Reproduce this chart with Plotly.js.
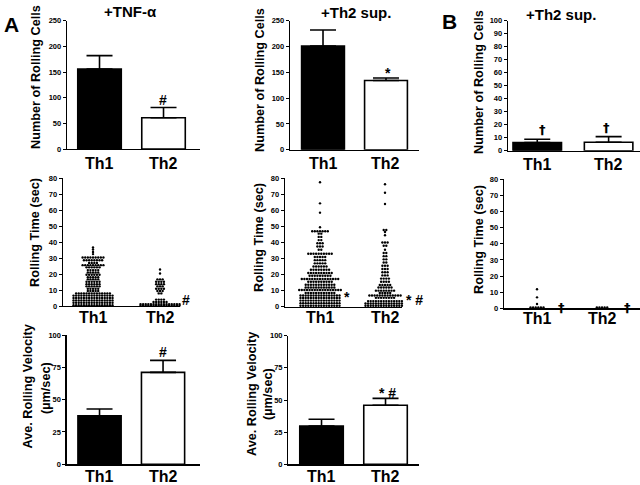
<!DOCTYPE html>
<html><head><meta charset="utf-8">
<script src="https://cdn.plot.ly/plotly-3.0.1.min.js"></script>
<style>html,body{margin:0;padding:0;background:#fff}#chart{width:640px;height:485px}</style>
</head><body><div id="chart"></div>
<script>
// ---------------- DATA ----------------
const groups = ['Th1', 'Th2'];

// Number of rolling cells (mean, SEM)
const cellsTnfMean = [156, 61];
const cellsTnfErr = [26, 20];
const cellsTh2supMean = [201, 134];
const cellsTh2supErr = [31, 5];
const cellsBMean = [6.2, 6.5];
const cellsBErr = [2.6, 4.3];

// Average rolling velocity (mean, SEM)
const velTnfMean = [37.6, 71.1];
const velTnfErr = [5.2, 9.3];
const velTh2supMean = [29.8, 45.9];
const velTh2supErr = [5.2, 5.4];

// Rolling time (sec): values and how many cells share each value
const timeTnfTh1Vals = [36.7, 35.4, 33.9, 32.5, 30.4, 28.7, 27, 25.6, 24.2, 22.5, 21, 19.6, 18, 16.7, 15.2, 13.7, 12.3, 10.8, 9.4, 7.9, 6.5, 5, 3.5, 2, 0.5];
const timeTnfTh1Counts = [1, 1, 1, 1, 9, 8, 4, 9, 6, 5, 5, 6, 5, 5, 6, 6, 6, 5, 5, 14, 16, 16, 16, 16, 16];
const timeTnfTh2Vals = [22.9, 20.4, 16.7, 15.2, 13.7, 12.3, 10.8, 9.4, 7.9, 4, 2.5, 1.2, 0.3];
const timeTnfTh2Counts = [1, 1, 3, 4, 4, 3, 4, 3, 2, 4, 6, 16, 16];

const timeSupTh1Vals = [77.5, 64.4, 58.6, 49.5, 47, 45.5, 43.5, 41.5, 39.5, 37.5, 35.5, 33, 31, 29, 27, 25, 23, 21, 19.3, 17.3, 15.5, 13.7, 12, 10.4, 8.6, 7, 5.4, 3.8, 2.2, 0.6];
const timeSupTh1Counts = [1, 1, 1, 1, 7, 2, 2, 2, 3, 3, 2, 10, 5, 5, 5, 6, 8, 10, 9, 15, 10, 12, 12, 17, 12, 16, 16, 16, 16, 16];
const timeSupTh2Vals = [76.3, 71, 64, 47.8, 46.5, 44.5, 40, 38, 35.5, 33.5, 31.5, 29.5, 27.5, 25.5, 23.5, 21.5, 19.5, 17.5, 15.5, 13.5, 12, 10, 8.5, 7, 5.5, 3.5, 2, 0.6];
const timeSupTh2Counts = [1, 1, 1, 2, 1, 1, 3, 2, 1, 2, 2, 2, 2, 3, 3, 3, 3, 4, 4, 5, 6, 8, 5, 13, 8, 14, 16, 16];

const timeBTh1Vals = [11.8, 6.8, 2.7, 0.5];
const timeBTh1Counts = [1, 1, 1, 6];
const timeBTh2Vals = [0.5];
const timeBTh2Counts = [5];

// ---------------- LAYOUT HELPERS ----------------
const W = 640, H = 485;
const FONT = 'Liberation Sans, Arial, sans-serif';
const dx = (l, r) => [l / W, r / W];
const dy = (t, b) => [1 - b / H, 1 - t / H];
const px = x => x / W;
const py = y => 1 - y / H;

const layout = {
  width: W, height: H, margin: {l: 0, r: 0, t: 0, b: 0},
  paper_bgcolor: '#fff', plot_bgcolor: 'rgba(0,0,0,0)',
  showlegend: false, font: {family: FONT, color: '#000'},
  annotations: []
};
const data = [];

function yAx(dom, range, dtick, anchor) {
  return {domain: dom, range: range, dtick: dtick, tick0: 0, anchor: anchor,
    showline: true, linecolor: '#000', linewidth: 1.3, ticks: 'outside', ticklen: 3, tickwidth: 1,
    tickcolor: '#000', showgrid: false, zeroline: false, fixedrange: true,
    tickfont: {family: FONT, size: 7.5, weight: 'bold', color: '#000'}};
}
function xAx(dom, range, anchor) {
  return {domain: dom, range: range, anchor: anchor, showticklabels: false,
    showline: true, linecolor: '#000', linewidth: 1.3, ticks: '', showgrid: false, zeroline: false,
    fixedrange: true};
}
function note(text, x, y, size, angle, fam) {
  layout.annotations.push({text: text, x: px(x), y: py(y), xref: 'paper', yref: 'paper',
    showarrow: false, xanchor: 'center', yanchor: 'middle', textangle: angle || 0,
    font: {family: fam || FONT, size: size, weight: 'bold', color: '#000'}});
}
function catLabels(xr, xvals, ycenter) {
  xvals.forEach((xv, i) => layout.annotations.push({text: groups[i], x: xv, y: py(ycenter),
    xref: xr, yref: 'paper', showarrow: false, xanchor: 'center', yanchor: 'middle',
    font: {family: FONT, size: 16, weight: 'bold', color: '#000'}}));
}

let n = 0;
function barPanel(xpx, ypx, xrange, yrange, dtick, means, errs, labelY) {
  n++;
  const xa = 'xaxis' + (n === 1 ? '' : n), ya = 'yaxis' + (n === 1 ? '' : n);
  const xr = 'x' + (n === 1 ? '' : n), yr = 'y' + (n === 1 ? '' : n);
  layout[xa] = xAx(dx(xpx[0], xpx[1]), xrange, yr);
  layout[ya] = yAx(dy(ypx[0], ypx[1]), yrange, dtick, xr);
  data.push({type: 'bar', x: [0, 1], y: means, xaxis: xr, yaxis: yr, width: [0.68, 0.68],
    marker: {color: ['#000', '#fff'], line: {color: '#000', width: 1.6}},
    error_y: {type: 'data', symmetric: false, array: errs, arrayminus: [0, 0],
      color: '#000', thickness: 1.6, width: 13}, cliponaxis: false});
  catLabels(xr, [0, 1], labelY);
}
function dotPanel(xpx, ypx, xrange, sets, labelY) {
  n++;
  const xa = 'xaxis' + n, ya = 'yaxis' + n, xr = 'x' + n, yr = 'y' + n;
  layout[xa] = xAx(dx(xpx[0], xpx[1]), xrange, yr);
  layout[ya] = yAx(dy(ypx[0], ypx[1]), [0, 80], 10, xr);
  const pxPerUnit = (xpx[1] - xpx[0]) / (xrange[1] - xrange[0]);
  const sp = 2.6 / pxPerUnit;
  sets.forEach((s, gi) => {
    const xs = [], ys = [];
    s[0].forEach((v, i) => {
      const c = s[1][i];
      for (let k = 0; k < c; k++) { xs.push(gi + 1 + (k - (c - 1) / 2) * sp); ys.push(v); }
    });
    data.push({type: 'scatter', mode: 'markers', x: xs, y: ys, xaxis: xr, yaxis: yr,
      marker: {color: '#000', size: 2.4, line: {width: 0}}, cliponaxis: false, hoverinfo: 'skip'});
  });
  catLabels(xr, [1, 2], labelY);
}

// ---------------- PANELS ----------------
// Row 1: number of rolling cells
barPanel([67, 200], [20.7, 149], [-0.508, 1.57], [0, 250], 50, cellsTnfMean, cellsTnfErr, 163);
barPanel([290, 419], [20.7, 149.7], [-0.524, 1.524], [0, 250], 50, cellsTh2supMean, cellsTh2supErr, 163);
barPanel([508, 640], [20.7, 150.7], [-0.41, 1.44], [0, 100], 10, cellsBMean, cellsBErr, 164);
// Row 2: rolling time
dotPanel([63, 180], [178.3, 306], [0.552, 2.298], [[timeTnfTh1Vals, timeTnfTh1Counts], [timeTnfTh2Vals, timeTnfTh2Counts]], 317);
dotPanel([285, 402], [178.3, 306.7], [0.4615, 2.2615], [[timeSupTh1Vals, timeSupTh1Counts], [timeSupTh2Vals, timeSupTh2Counts]], 317);
dotPanel([504, 640], [179.3, 308.3], [0.492, 2.584], [[timeBTh1Vals, timeBTh1Counts], [timeBTh2Vals, timeBTh2Counts]], 318);
// Row 3: velocity
barPanel([66.7, 200], [335, 464.3], [-0.517, 1.582], [0, 100], 25, velTnfMean, velTnfErr, 476.5);
barPanel([288.3, 419], [335.7, 464.3], [-0.519, 1.523], [0, 100], 25, velTh2supMean, velTh2supErr, 476.5);

// ---------------- TEXT ----------------
const TS = 12.7;
note('A', 11, 24, 21);
note('B', 449, 22, 21);
note('+TNF-α', 130, 11, 15);
note('+Th2 sup.', 356, 12, 15);
note('+Th2 sup.', 561, 14, 15);

note('Number of Rolling Cells', 36, 77, TS, -90);
note('Number of Rolling Cells', 260, 80, TS, -90);
note('Number of Rolling Cells', 479, 82, TS, -90);
note('Rolling Time (sec)', 35, 233, TS, -90);
note('Rolling Time (sec)', 259, 238, TS, -90);
note('Rolling Time (sec)', 479, 240, TS, -90);
note('Ave. Rolling Velocity', 27.5, 387, TS, -90);
note('(µm/sec)', 46, 388, TS, -90);
note('Ave. Rolling Velocity', 252, 394, TS, -90);
note('(µm/sec)', 268, 394, TS, -90);

// significance marks
note('#', 163, 100, 14);
note('*', 388, 73, 14);
note('†', 542, 130, 13, 0, 'DejaVu Sans');
note('†', 606, 128, 13, 0, 'DejaVu Sans');
note('#', 186, 300, 14);
note('*', 347, 297, 14);
note('* #', 414, 300, 14);
note('†', 561, 307, 13, 0, 'DejaVu Sans');
note('†', 627, 307, 13, 0, 'DejaVu Sans');
note('#', 163, 352, 14);
note('* #', 387, 393, 14);

Plotly.newPlot('chart', data, layout, {staticPlot: true, displayModeBar: false});
</script>
</body></html>
